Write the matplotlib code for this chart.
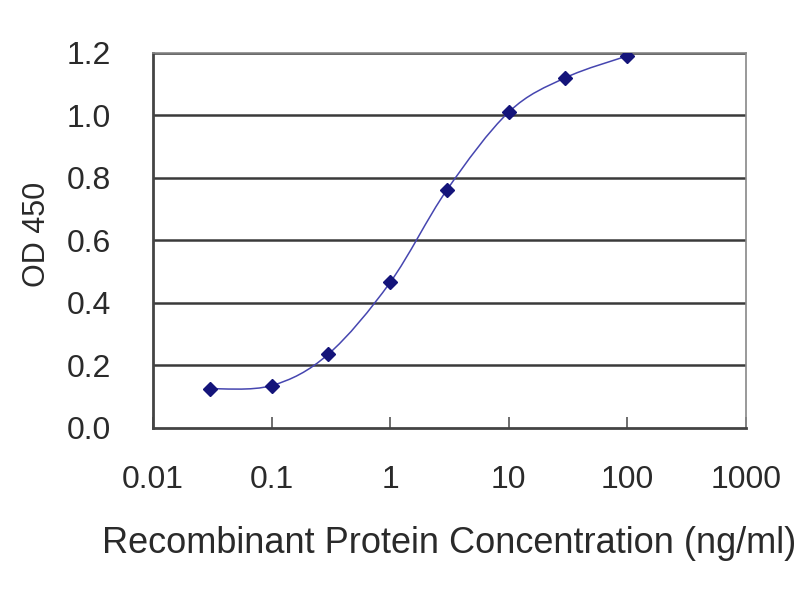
import numpy as np
import matplotlib
matplotlib.use("Agg")
import matplotlib.pyplot as plt
from matplotlib.path import Path
from matplotlib.patches import PathPatch

plt.rcParams['font.family'] = ['Liberation Sans', 'DejaVu Sans']

# data
conc = [0.03, 0.1, 0.3, 1, 3, 10, 30, 100]  # ng/ml
od450 = [0.125, 0.135, 0.235, 0.465, 0.76, 1.01, 1.12, 1.19]

xTicks = [0.01, 0.1, 1, 10, 100, 1000]
xTickLabels = ['0.01', '0.1', '1', '10', '100', '1000']
yTicks = [0.0, 0.2, 0.4, 0.6, 0.8, 1.0, 1.2]

lineColor = '#4646b0'
markerColor = '#14147a'
textColor = '#2a2a2a'

fig = plt.figure(figsize=(8, 6), dpi=100)
ax = fig.add_axes([0.1912, 0.287, 0.741, 0.625])
ax.set_xscale('log')
ax.set_xlim(0.01, 1000)
ax.set_ylim(0, 1.2)

# smoothed line (Catmull-Rom style bezier in log-x space, like Excel smoothing)
lx = np.log10(conc)
y = np.array(od450)
n = len(lx)
verts = [(conc[0], od450[0])]
codes = [Path.MOVETO]
for i in range(n - 1):
    p0 = max(i - 1, 0)
    p3 = min(i + 2, n - 1)
    c1x = lx[i] + (lx[i + 1] - lx[p0]) / 6
    c1y = y[i] + (y[i + 1] - y[p0]) / 6
    c2x = lx[i + 1] - (lx[p3] - lx[i]) / 6
    c2y = y[i + 1] - (y[p3] - y[i]) / 6
    verts += [(10 ** c1x, c1y), (10 ** c2x, c2y), (conc[i + 1], od450[i + 1])]
    codes += [Path.CURVE4] * 3
ax.add_patch(PathPatch(Path(verts, codes), facecolor='none', edgecolor=lineColor, lw=1.1, zorder=3))

ax.plot(conc, od450, linestyle='none', marker='D', markersize=7.5, color=markerColor, zorder=4)

for v in yTicks[1:]:
    ax.axhline(v, color='#3a3a3a', lw=1.8, zorder=1)

ax.set_xticks(xTicks)
ax.set_xticklabels(xTickLabels)
ax.minorticks_off()
ax.set_yticks(yTicks)
ax.set_yticklabels(['%.1f' % v for v in yTicks])
ax.tick_params(axis='x', direction='in', length=8, width=1.2, color='#555555', pad=27, labelsize=23, labelcolor=textColor)
ax.tick_params(axis='y', length=0, pad=30, labelsize=23, labelcolor=textColor)

for s in ax.spines.values():
    s.set_color('#888888')
    s.set_linewidth(1.2)
ax.spines['bottom'].set_color('#444444')
ax.spines['bottom'].set_linewidth(2)
ax.spines['left'].set_color('#444444')
ax.spines['left'].set_linewidth(2)

ax.set_xlabel('Recombinant Protein Concentration (ng/ml)', fontsize=26, color=textColor, labelpad=22)
ax.set_ylabel('OD 450', fontsize=22, color=textColor, labelpad=14)
ax.yaxis.set_label_coords(-0.17, 0.515)

fig.savefig('out.png', dpi=100)
